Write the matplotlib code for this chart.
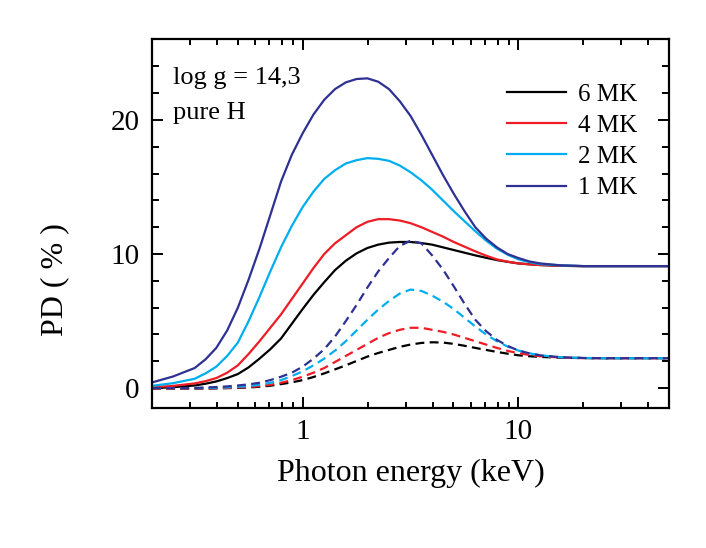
import numpy as np
import matplotlib.pyplot as plt
from matplotlib.ticker import MultipleLocator, LogLocator, NullFormatter, FixedLocator

plt.rcParams['font.family'] = ['Liberation Serif', 'DejaVu Serif']

# photon energies (keV) at which the curves were read
e_grid = [0.2, 0.251, 0.316, 0.355, 0.398, 0.447, 0.501, 0.562, 0.631, 0.708, 0.794,
          0.891, 1.0, 1.122, 1.259, 1.413, 1.585, 1.778, 1.995, 2.239, 2.512, 2.818,
          3.162, 3.548, 3.981, 4.467, 5.012, 5.623, 6.31, 7.079, 7.943, 8.913, 10.0,
          11.22, 12.59, 15.85, 19.95, 25.12, 31.62, 39.81, 50.0]

# solid curves (PD, %)
pd_1mk = [0.42, 0.87, 1.5, 2.15, 3.0, 4.3, 6.0, 8.1, 10.4, 12.9, 15.4, 17.4, 19.0, 20.4,
          21.5, 22.3, 22.8, 23.05, 23.1, 22.85, 22.3, 21.4, 20.3, 18.9, 17.4, 15.9, 14.5,
          13.2, 12.0, 11.15, 10.5, 10.0, 9.7, 9.45, 9.3, 9.15, 9.1, 9.1, 9.1, 9.1, 9.1]
pd_2mk = [0.17, 0.37, 0.7, 1.1, 1.6, 2.4, 3.4, 5.0, 6.8, 8.7, 10.5, 12.1, 13.5, 14.65,
          15.6, 16.25, 16.75, 17.0, 17.15, 17.1, 16.95, 16.6, 16.1, 15.5, 14.8, 14.0, 13.2,
          12.45, 11.7, 11.0, 10.4, 9.95, 9.6, 9.4, 9.25, 9.15, 9.1, 9.1, 9.1, 9.1, 9.1]
pd_4mk = [0.07, 0.17, 0.35, 0.52, 0.75, 1.15, 1.7, 2.55, 3.5, 4.5, 5.5, 6.65, 7.8, 8.95,
          10.0, 10.8, 11.4, 12.0, 12.4, 12.6, 12.6, 12.5, 12.3, 12.0, 11.65, 11.3, 10.9,
          10.55, 10.2, 9.88, 9.6, 9.43, 9.3, 9.23, 9.18, 9.12, 9.1, 9.1, 9.1, 9.1, 9.1]
pd_6mk = [0.0, 0.07, 0.2, 0.33, 0.5, 0.75, 1.05, 1.55, 2.2, 2.9, 3.7, 4.8, 5.9, 6.95,
          7.9, 8.8, 9.5, 10.05, 10.45, 10.7, 10.85, 10.9, 10.9, 10.82, 10.7, 10.5, 10.3,
          10.1, 9.9, 9.72, 9.55, 9.42, 9.3, 9.24, 9.18, 9.12, 9.1, 9.1, 9.1, 9.1, 9.1]

# dashed curves (PD, %)
pdd_1mk = [0.0, 0.0, 0.02, 0.05, 0.08, 0.13, 0.2, 0.28, 0.4, 0.6, 0.85, 1.15, 1.6, 2.2,
           2.9, 3.85, 5.0, 6.2, 7.5, 8.7, 9.7, 10.6, 11.0, 10.8, 9.9, 8.85, 7.6, 6.3, 5.1,
           4.25, 3.6, 3.15, 2.8, 2.6, 2.45, 2.3, 2.25, 2.23, 2.23, 2.23, 2.23]
pdd_2mk = [0.0, 0.0, 0.0, 0.01, 0.03, 0.06, 0.1, 0.16, 0.25, 0.4, 0.6, 0.9, 1.25, 1.7,
           2.2, 2.8, 3.5, 4.3, 5.1, 5.85, 6.5, 7.05, 7.35, 7.25, 6.9, 6.45, 5.9, 5.25, 4.6,
           4.0, 3.5, 3.1, 2.8, 2.6, 2.45, 2.3, 2.25, 2.23, 2.23, 2.23, 2.23]
pdd_4mk = [-0.05, -0.05, -0.03, -0.02, 0.0, 0.02, 0.05, 0.09, 0.15, 0.25, 0.4, 0.6, 0.85,
           1.15, 1.5, 1.95, 2.4, 2.85, 3.3, 3.75, 4.1, 4.35, 4.5, 4.5, 4.35, 4.2, 4.0, 3.75,
           3.5, 3.25, 3.0, 2.78, 2.6, 2.48, 2.38, 2.28, 2.24, 2.23, 2.23, 2.23, 2.23]
pdd_6mk = [-0.05, -0.05, -0.04, -0.03, -0.02, 0.0, 0.02, 0.05, 0.1, 0.18, 0.3, 0.43, 0.6,
           0.83, 1.1, 1.4, 1.7, 2.03, 2.35, 2.62, 2.85, 3.08, 3.25, 3.37, 3.42, 3.4, 3.3,
           3.16, 3.0, 2.85, 2.7, 2.57, 2.45, 2.38, 2.33, 2.27, 2.24, 2.23, 2.23, 2.23, 2.23]

labels = ['6 MK', '4 MK', '2 MK', '1 MK']
colors = ['#000000', '#ee1c25', '#00aeef', '#2e3192']
solid = [pd_6mk, pd_4mk, pd_2mk, pd_1mk]
dashed = [pdd_6mk, pdd_4mk, pdd_2mk, pdd_1mk]

fig = plt.figure(figsize=(7.06, 5.48), dpi=100)
ax = fig.add_axes([0.215, 0.255, 0.733, 0.673])

for y, c, lab in zip(solid, colors, labels):
    ax.plot(e_grid, y, '-', color=c, linewidth=1.6, label=lab)
for y, c in zip(dashed, colors):
    ax.plot(e_grid, y, '--', color=c, linewidth=1.6, dashes=(4, 2.4))

ax.set_xscale('log')
ax.set_xlim(0.2, 50)
ax.set_ylim(-1.5, 26)
ax.xaxis.set_major_locator(FixedLocator([1, 10]))
ax.xaxis.set_minor_locator(LogLocator(base=10, subs=np.arange(2, 10)))
ax.xaxis.set_minor_formatter(NullFormatter())
ax.set_xticklabels(['1', '10'])
ax.yaxis.set_major_locator(MultipleLocator(10))
ax.yaxis.set_minor_locator(MultipleLocator(2))

ax.tick_params(which='both', direction='in', top=True, right=True, width=1.4, labelsize=21)
ax.tick_params(axis='x', which='major', length=8, pad=8)
ax.tick_params(axis='x', which='minor', length=4)
ax.tick_params(axis='y', which='major', length=8, pad=9)
ax.tick_params(axis='y', which='minor', length=5)
for s in ax.spines.values():
    s.set_linewidth(1.6)

ax.set_xlabel('Photon energy (keV)', fontsize=23, labelpad=10)
ax.set_ylabel('PD ( % )', fontsize=23)
ax.yaxis.set_label_coords(-0.16, 0.35)

ax.text(0.041, 0.878, 'log g = 14,3', transform=ax.transAxes, fontsize=19,
        va='baseline', ha='left')
ax.text(0.041, 0.783, 'pure H', transform=ax.transAxes, fontsize=19,
        va='baseline', ha='left')
ax.legend(loc='upper right', bbox_to_anchor=(0.958, 0.909), fontsize=18, frameon=False,
          handlelength=2.36, handletextpad=0.48, labelspacing=0.35, borderaxespad=0)

plt.savefig('out.png', dpi=100)
